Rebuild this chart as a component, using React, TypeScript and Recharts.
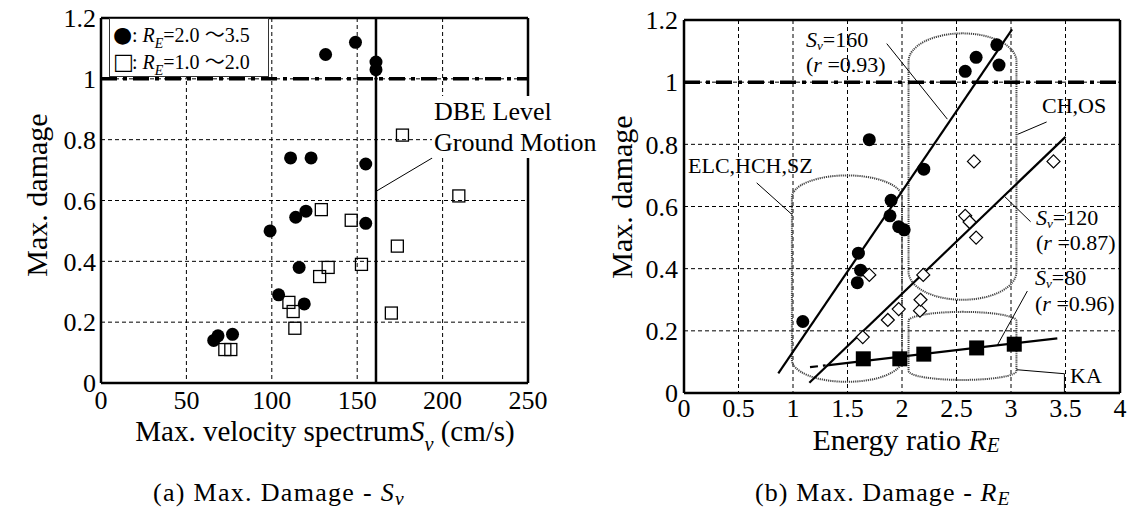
import {
  CartesianGrid,
  ReferenceArea,
  ReferenceLine,
  Scatter,
  ScatterChart,
  XAxis,
  YAxis,
} from 'recharts'

const FONT = '"Liberation Serif", "Times New Roman", serif'

// (a) Max. damage vs. max. velocity spectrum Sv
const svHighRe = [
  { x: 66, y: 0.14 }, { x: 68.5, y: 0.155 }, { x: 77, y: 0.16 }, { x: 99, y: 0.5 },
  { x: 104, y: 0.29 }, { x: 111, y: 0.74 }, { x: 114, y: 0.545 }, { x: 116, y: 0.38 },
  { x: 119, y: 0.26 }, { x: 120, y: 0.565 }, { x: 123, y: 0.74 }, { x: 131.5, y: 1.08 },
  { x: 149, y: 1.12 }, { x: 155, y: 0.525 }, { x: 155, y: 0.72 }, { x: 161, y: 1.055 },
  { x: 161, y: 1.03 },
]
const svLowRe = [
  { x: 72.5, y: 0.11 }, { x: 76, y: 0.11 }, { x: 110, y: 0.265 }, { x: 112.5, y: 0.235 },
  { x: 113.5, y: 0.18 }, { x: 128, y: 0.35 }, { x: 133, y: 0.38 }, { x: 129, y: 0.57 },
  { x: 146.5, y: 0.535 }, { x: 152.5, y: 0.39 }, { x: 170, y: 0.23 }, { x: 173.5, y: 0.45 },
  { x: 176.5, y: 0.815 }, { x: 209.5, y: 0.615 },
]
const svTicks = [0, 50, 100, 150, 200, 250]
const damageTicks = [0, 0.2, 0.4, 0.6, 0.8, 1, 1.2]
const dbeLevel = 161
const dbeLeader = [{ x: 161, y: 0.63 }, { x: 194, y: 0.74 }]

// (b) Max. damage vs. energy ratio RE
const reSv160 = [
  { x: 1.09, y: 0.23 }, { x: 1.6, y: 0.45 }, { x: 1.62, y: 0.395 }, { x: 1.59, y: 0.355 },
  { x: 1.7, y: 0.815 }, { x: 1.89, y: 0.57 }, { x: 1.9, y: 0.62 }, { x: 1.97, y: 0.535 },
  { x: 2.02, y: 0.525 }, { x: 2.2, y: 0.72 }, { x: 2.58, y: 1.035 }, { x: 2.68, y: 1.08 },
  { x: 2.87, y: 1.12 }, { x: 2.89, y: 1.055 },
]
const reSv120 = [
  { x: 1.64, y: 0.18 }, { x: 1.7, y: 0.38 }, { x: 1.87, y: 0.235 }, { x: 1.97, y: 0.27 },
  { x: 2.165, y: 0.265 }, { x: 2.17, y: 0.3 }, { x: 2.195, y: 0.38 }, { x: 2.58, y: 0.57 },
  { x: 2.62, y: 0.55 }, { x: 2.68, y: 0.5 }, { x: 2.66, y: 0.745 }, { x: 3.39, y: 0.745 },
]
const reSv80 = [
  { x: 1.645, y: 0.11 }, { x: 1.98, y: 0.11 }, { x: 2.2, y: 0.125 }, { x: 2.685, y: 0.145 },
  { x: 3.03, y: 0.157 },
]
const reTicks = [0, 0.5, 1, 1.5, 2, 2.5, 3, 3.5, 4]
const fit160 = [{ x: 0.865, y: 0.063 }, { x: 3.01, y: 1.17 }]
const fit120 = [{ x: 1.15, y: 0.033 }, { x: 3.5, y: 0.824 }]
const fit80 = [{ x: 1.31, y: 0.089 }, { x: 3.425, y: 0.176 }]
const fit80Start = [{ x: 1.156, y: 0.083 }, { x: 1.3, y: 0.089 }]

const groups = [
  { name: 'ELC,HCH,SZ', x1: 0.99, x2: 2.0, y1: 0.036, y2: 0.7 },
  { name: 'CH,OS', x1: 2.06, x2: 3.05, y1: 0.3, y2: 1.157 },
  { name: 'KA', x1: 2.06, x2: 3.05, y1: 0.042, y2: 0.261 },
]
const leaders = [
  [{ x: 1.86, y: 1.124 }, { x: 2.416, y: 0.881 }],
  [{ x: 0.667, y: 0.676 }, { x: 0.988, y: 0.575 }],
  [{ x: 3.327, y: 0.872 }, { x: 3.06, y: 0.832 }],
  [{ x: 2.945, y: 0.631 }, { x: 3.18, y: 0.551 }],
  [{ x: 3.15, y: 0.328 }, { x: 2.875, y: 0.154 }],
  [{ x: 3.05, y: 0.075 }, { x: 3.49, y: 0.062 }],
  [{ x: 3.49, y: 0.062 }, { x: 3.49, y: 0 }],
]

const capsuleRy: Record<string, number> = { 'ELC,HCH,SZ': 22, 'CH,OS': 28, KA: 9 }

const XTick = (p: any) => (
  <text x={p.x} y={p.y} dy="0.71em" textAnchor="middle" fontSize={26} fontFamily={FONT} fill="#000">
    {p.payload.value}
  </text>
)
const YTick = (p: any) => (
  <text x={p.x} y={p.y} dy="0.355em" textAnchor="end" fontSize={26} fontFamily={FONT} fill="#000">
    {p.payload.value}
  </text>
)

const Dot = (p: any) => <circle cx={p.cx} cy={p.cy} r={6.5} fill="#000" />
const OpenSquare = (p: any) => (
  <rect x={p.cx - 6} y={p.cy - 6} width={12} height={12} fill="none" stroke="#000" strokeWidth={1.3} />
)
const Diamond = (p: any) => (
  <polygon
    points={`${p.cx},${p.cy - 6.5} ${p.cx + 6.5},${p.cy} ${p.cx},${p.cy + 6.5} ${p.cx - 6.5},${p.cy}`}
    fill="#fff"
    stroke="#000"
    strokeWidth={1.2}
  />
)
const BlockSquare = (p: any) => <rect x={p.cx - 7.5} y={p.cy - 7.5} width={15} height={15} fill="#000" />

const Sub = ({ children, size = '0.7em', drop = '0.35em' }: any) => (
  <span style={{ fontSize: size, fontStyle: 'italic', position: 'relative', top: drop, lineHeight: 0 }}>{children}</span>
)

const abs = (left: number, top: number, extra: any = {}) => ({
  position: 'absolute' as const,
  left,
  top,
  whiteSpace: 'nowrap' as const,
  fontFamily: FONT,
  color: '#000',
  ...extra,
})

const axisLine = { stroke: '#000', strokeWidth: 2.5 }
const wave = '〜'
const glyph = { fontSize: 22, lineHeight: '20px', display: 'inline-block', width: 19, fontFamily: '"DejaVu Sans"' }

export default function App() {
  return (
    <div style={{ position: 'absolute', left: 0, top: 0, width: 1129, height: 510, background: '#fff', overflow: 'hidden', fontFamily: FONT }}>
      {/* (a) */}
      <ScatterChart width={560} height={430} margin={{ top: 18, right: 32, bottom: 0, left: 0 }} style={{ position: 'absolute', left: 0, top: 0 }}>
        <CartesianGrid stroke="#000" strokeDasharray="4 3" strokeWidth={1} />
        <XAxis type="number" dataKey="x" domain={[0, 250]} ticks={svTicks} tick={XTick} tickSize={0} tickMargin={8} height={47} axisLine={axisLine} />
        <YAxis type="number" dataKey="y" domain={[0, 1.2]} ticks={damageTicks} tick={YTick} tickSize={0} tickMargin={5} width={101} axisLine={axisLine} />
        <YAxis yAxisId="li" type="number" orientation="left" mirror domain={[0, 1.2]} ticks={damageTicks} tickSize={13} tickFormatter={() => ''} axisLine={false} tickLine={{ stroke: '#000' }} />
        <YAxis yAxisId="r" type="number" orientation="right" mirror domain={[0, 1.2]} ticks={damageTicks} tickSize={13} tickFormatter={() => ''} axisLine={axisLine} tickLine={{ stroke: '#000' }} />
        <ReferenceLine y={1.2} stroke="#000" strokeWidth={2.5} />
        <ReferenceLine y={1} stroke="#000" strokeWidth={3.5} strokeDasharray="16 6 4 6" />
        <ReferenceLine x={dbeLevel} stroke="#000" strokeWidth={2.5} />
        <ReferenceLine segment={dbeLeader} stroke="#000" strokeWidth={1} />
        <Scatter data={svHighRe} shape={Dot} isAnimationActive={false} />
        <Scatter data={svLowRe} shape={OpenSquare} isAnimationActive={false} />
      </ScatterChart>

      {/* (b) */}
      <ScatterChart width={569} height={440} margin={{ top: 20, right: 9, bottom: 0, left: 0 }} style={{ position: 'absolute', left: 560, top: 0 }}>
        <CartesianGrid stroke="#000" strokeDasharray="4 3" strokeWidth={1} />
        <XAxis type="number" dataKey="x" domain={[0, 4]} ticks={reTicks} tick={XTick} tickSize={0} tickMargin={6} height={47} axisLine={axisLine} />
        <YAxis type="number" dataKey="y" domain={[0, 1.2]} ticks={damageTicks} tick={YTick} tickSize={0} tickMargin={6} width={124} axisLine={axisLine} />
        <YAxis yAxisId="li" type="number" orientation="left" mirror domain={[0, 1.2]} ticks={damageTicks} tickSize={10} tickFormatter={() => ''} axisLine={false} tickLine={{ stroke: '#000' }} />
        <YAxis yAxisId="r" type="number" orientation="right" mirror domain={[0, 1.2]} ticks={damageTicks} tickSize={8} tickFormatter={() => ''} axisLine={axisLine} tickLine={{ stroke: '#000' }} />
        <ReferenceLine y={1.2} stroke="#000" strokeWidth={2.5} />
        <ReferenceLine y={1} stroke="#000" strokeWidth={3.5} strokeDasharray="16 6 4 6" />
        {groups.map((g) => (
          <ReferenceArea
            key={g.name}
            x1={g.x1}
            x2={g.x2}
            y1={g.y1}
            y2={g.y2}
            shape={(p: any) => (
              <rect x={p.x} y={p.y} width={p.width} height={p.height} rx={p.width / 2} ry={capsuleRy[g.name]} fill="none" stroke="#444" strokeWidth={2} strokeDasharray="1.2 0.9" />
            )}
          />
        ))}
        {leaders.map((s, i) => (
          <ReferenceLine key={i} segment={s} stroke="#000" strokeWidth={1} />
        ))}
        <ReferenceLine segment={fit160} stroke="#000" strokeWidth={2.2} />
        <ReferenceLine segment={fit120} stroke="#000" strokeWidth={2.2} />
        <ReferenceLine segment={fit80} stroke="#000" strokeWidth={2.2} />
        <ReferenceLine segment={fit80Start} stroke="#000" strokeWidth={2.2} strokeDasharray="8 5" />
        <Scatter data={reSv160} shape={Dot} isAnimationActive={false} />
        <Scatter data={reSv120} shape={Diamond} isAnimationActive={false} />
        <Scatter data={reSv80} shape={BlockSquare} isAnimationActive={false} />
      </ScatterChart>

      {/* legend (a) */}
      <div style={abs(109, 18, { width: 155, height: 55, border: '1.5px solid #333', background: '#fff', fontSize: 20, lineHeight: '25px', padding: '2px 0 0 3px' })}>
        <div><span style={glyph}>●</span>: <i>R</i><Sub drop="0.45em">E</Sub>=2.0 <span style={{ fontFamily: '"Noto Sans CJK JP"' }}>{wave}</span>3.5</div>
        <div><span style={glyph}>□</span>: <i>R</i><Sub drop="0.45em">E</Sub>=1.0 <span style={{ fontFamily: '"Noto Sans CJK JP"' }}>{wave}</span>2.0</div>
      </div>

      {/* annotations (a) */}
      <div style={abs(432, 96, { fontSize: 26, lineHeight: '31px', background: '#fff', padding: '0 2px' })}>
        DBE Level<br />Ground Motion
      </div>

      {/* annotations (b) */}
      <div style={abs(806, 27, { fontSize: 22, lineHeight: '25px' })}>
        <i>S</i><Sub size="0.6em" drop="0.2em">v</Sub>=160<br />(<i>r</i> =0.93)
      </div>
      <div style={abs(688, 153, { fontSize: 22, lineHeight: '25px' })}>ELC,HCH,SZ</div>
      <div style={abs(1042, 93, { fontSize: 22, lineHeight: '25px' })}>CH,OS</div>
      <div style={abs(1036, 205, { fontSize: 22, lineHeight: '25px' })}>
        <i>S</i><Sub size="0.6em" drop="0.2em">v</Sub>=120<br />(<i>r</i> =0.87)
      </div>
      <div style={abs(1035, 265, { fontSize: 22, lineHeight: '26px' })}>
        <i>S</i><Sub size="0.6em" drop="0.2em">v</Sub>=80<br />(<i>r</i> =0.96)
      </div>
      <div style={abs(1070, 363, { fontSize: 22, lineHeight: '25px' })}>KA</div>

      {/* axis titles */}
      <div style={abs(37, 195, { fontSize: 30, lineHeight: '32px', transform: 'translate(-50%, -50%) rotate(-90deg)' })}>Max. damage</div>
      <div style={abs(622, 197, { fontSize: 30, lineHeight: '32px', transform: 'translate(-50%, -50%) rotate(-90deg)' })}>Max. damage</div>
      <div style={abs(325, 431, { fontSize: 29, lineHeight: '28px', transform: 'translate(-50%, -50%)' })}>
        Max. velocity spectrum<i>S</i><Sub drop="0.5em">v</Sub> (cm/s)
      </div>
      <div style={abs(906, 440, { fontSize: 30, lineHeight: '28px', transform: 'translate(-50%, -50%)' })}>
        Energy ratio <i>R</i><Sub size="0.7em" drop="0.1em">E</Sub>
      </div>

      {/* captions */}
      <div style={abs(153, 479, { fontSize: 26, lineHeight: '28px', letterSpacing: '1.3px' })}>
        (a) Max. Damage - <i>S</i><Sub size="0.75em" drop="0.2em">v</Sub>
      </div>
      <div style={abs(755, 479, { fontSize: 26, lineHeight: '28px', letterSpacing: '1.1px' })}>
        (b) Max. Damage - <i>R</i><Sub size="0.75em" drop="0.2em">E</Sub>
      </div>
    </div>
  )
}
